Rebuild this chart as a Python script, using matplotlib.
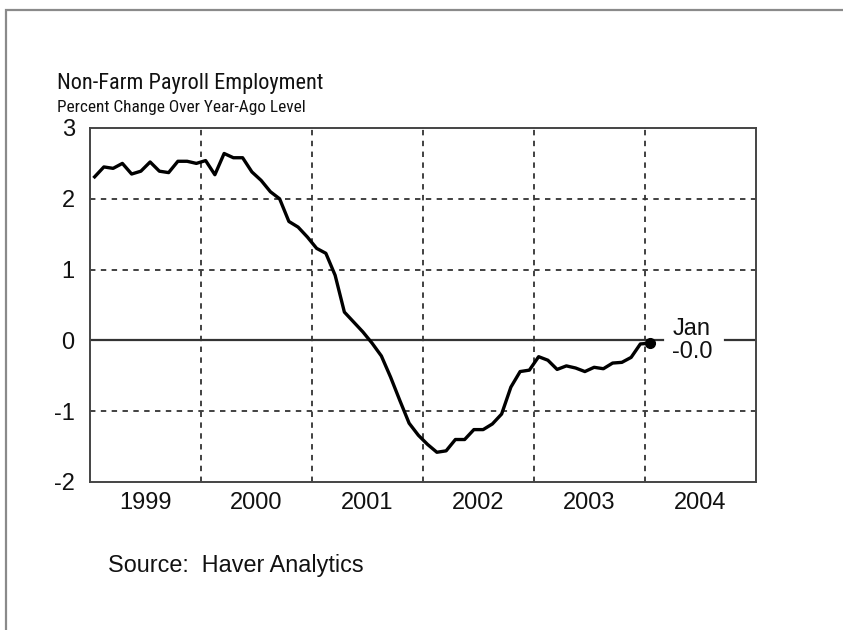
import matplotlib
matplotlib.use("Agg")
import matplotlib.pyplot as plt
from matplotlib import font_manager
from matplotlib.font_manager import FontProperties
from matplotlib.patches import Rectangle
import numpy as np

# ---- data ----
start_year = 1999
values = [
    2.31, 2.45, 2.43, 2.50, 2.35, 2.39, 2.52, 2.39, 2.37, 2.53, 2.53, 2.50,   # 1999
    2.54, 2.34, 2.64, 2.58, 2.58, 2.38, 2.26, 2.10, 2.00, 1.68, 1.60, 1.46,   # 2000
    1.30, 1.23, 0.92, 0.40, 0.26, 0.12, -0.04, -0.22, -0.52, -0.85, -1.17, -1.34,  # 2001
    -1.47, -1.58, -1.56, -1.40, -1.40, -1.26, -1.26, -1.18, -1.04, -0.66, -0.44, -0.42,  # 2002
    -0.23, -0.28, -0.41, -0.36, -0.39, -0.44, -0.38, -0.40, -0.32, -0.31, -0.24, -0.05,  # 2003
    -0.04,  # Jan 2004
]
year_labels = ["1999", "2000", "2001", "2002", "2003", "2004"]
y_ticks = [-2, -1, 0, 1, 2, 3]
last_label = "Jan\n-0.0"
title = "Non-Farm Payroll Employment"
subtitle = "Percent Change Over Year-Ago Level"
source = "Source:  Haver Analytics"

# ---- fonts ----
avail = {f.name for f in font_manager.fontManager.ttflist}
base_font = "Liberation Sans" if "Liberation Sans" in avail else "DejaVu Sans"
plt.rcParams["font.family"] = base_font


def find_narrow():
    prefs = ["Liberation Sans Narrow", "Arial Narrow", "Roboto Condensed",
             "Open Sans Condensed", "DejaVu Sans Condensed", "Noto Sans Condensed"]
    entries = font_manager.fontManager.ttflist
    for p in prefs:
        for f in entries:
            if f.name == p and f.weight in (400, "normal", "regular") and f.style == "normal":
                return FontProperties(fname=f.fname)
    for f in entries:
        st = f.stretch
        cond = False
        if isinstance(st, str):
            cond = "condensed" in st and "semi" not in st
        elif isinstance(st, (int, float)):
            cond = st <= 400
        fn = f.fname.lower()
        if ("narrow" in fn or "condensed" in fn or cond) and f.style == "normal" \
                and f.weight in (400, "normal", "regular") and "mono" not in fn \
                and "serif" not in f.name.lower() or False:
            if "sans" in f.name.lower() or "narrow" in fn:
                return FontProperties(fname=f.fname)
    return None


narrow_fp = find_narrow()

W, H = 843, 630
fig = plt.figure(figsize=(W / 100, H / 100), dpi=100)
fig.patch.set_facecolor("white")


def fx(px):
    return px / W


def fy(py):
    return 1 - py / H


# outer frame
fig.patches.append(Rectangle((fx(6), fy(700)), fx(900), (700 - 10) / H,
                             transform=fig.transFigure, fill=False,
                             edgecolor="#8a8a8a", linewidth=1.6))

L, R, T, B = 90, 756, 128, 482
ax = fig.add_axes([fx(L), fy(B), (R - L) / W, (B - T) / H])

x = np.array([start_year + (i + 0.5) / 12 for i in range(len(values))])
y = np.array(values)

ax.set_xlim(1999, 2005)
ax.set_ylim(-2, 3)

grid_kw = dict(color="#333333", linewidth=1.3, linestyle=(0, (3, 3)), zorder=1)
for yr in range(2000, 2005):
    ax.axvline(yr, **grid_kw)
for yv in y_ticks:
    if yv in (-2, 3, 0):
        continue
    ax.axhline(yv, **grid_kw)

# zero line, with a gap for the label
ax.plot([1999, 2004.16], [0, 0], color="#333333", linewidth=1.6, zorder=2)
ax.plot([2004.72, 2005], [0, 0], color="#333333", linewidth=1.6, zorder=2)

ax.plot(x, y, color="black", linewidth=2.4, zorder=3, solid_joinstyle="round")
ax.plot(x[-1], y[-1], marker="o", color="black", markersize=7, zorder=4)

ax.text(2004.245, 0.0, last_label, fontsize=17, va="center", ha="left",
        linespacing=1.05, color="#111111")

ax.set_yticks(y_ticks)
ax.set_yticklabels([str(v) for v in y_ticks], fontsize=17, color="#111111")
ax.set_xticks([yr + 0.5 for yr in range(1999, 2005)])
ax.set_xticklabels(year_labels, fontsize=17, color="#111111")
ax.tick_params(axis="both", length=0)
ax.tick_params(axis="y", pad=11)
ax.tick_params(axis="x", pad=7)
for s in ax.spines.values():
    s.set_color("#444444")
    s.set_linewidth(1.4)


def fit_text(px, py, s, target_w, size, fp):
    kw = dict(fontsize=size, ha="left", va="baseline", color="#111111")
    if fp is not None:
        kw["fontproperties"] = fp.copy()
        kw["fontproperties"].set_size(size)
        kw.pop("fontsize")
    t = fig.text(fx(px), fy(py), s, **kw)
    r = fig.canvas.get_renderer()
    w = t.get_window_extent(r).width
    if w > target_w * 1.04:
        t.set_fontsize(size * target_w / w)
    return t


fit_text(57, 89, title, 266, 17.5, narrow_fp)
fit_text(57, 112, subtitle, 248, 13.5, narrow_fp)
fig.text(fx(108), fy(572), source, fontsize=16.8, ha="left", va="baseline",
         color="#111111")

fig.savefig("out.png", dpi=100, facecolor="white")
